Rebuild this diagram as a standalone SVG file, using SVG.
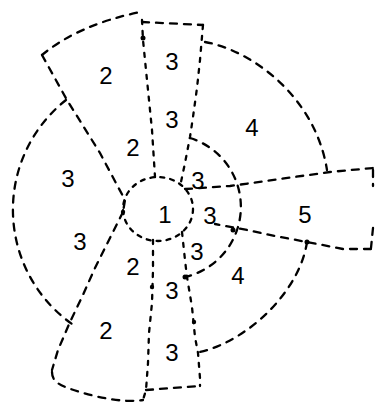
<svg xmlns="http://www.w3.org/2000/svg" width="377" height="403" viewBox="0 0 377 403">
<style>
.d{fill:none;stroke:#000;stroke-width:2.3;stroke-linecap:round;stroke-linejoin:round;stroke-dasharray:7 7}
.s{fill:none;stroke:#000;stroke-width:2.3;stroke-linecap:round;stroke-dasharray:4 7}
.i{fill:none;stroke:#000;stroke-width:2.3;stroke-linecap:round;stroke-dasharray:4 6}
.b{fill:#000}
text{font-family:"Liberation Sans",Arial,sans-serif;font-size:24px;fill:#000;text-anchor:middle}
</style>
<rect width="377" height="403" fill="#fff"/>
<g id="connectors">
<path class="d" d="M42,55 Q78,25 140,12"/>
<path class="d" d="M42,55 L67,100 L100,153 L125,200 L123,212"/>
<path class="d" d="M66,100 A140,140 0 0 0 72,324"/>
<path class="d" d="M123,212 L108,242 L95,268 L82,297 L70,322 L58,350 L52,370"/>
<path class="d" d="M52,372 C52,382 60,386 80,392 C100,398 125,403 143,400"/>
<path class="s" d="M142,20 L143,40 L148,90 L152,130 L155,177"/>
<path class="d" d="M142,22 L203,25"/>
<path class="s" d="M203,25 L200,60 L197,88 L193,117 L190,137 L185,163 L181,182"/>
<path class="d" d="M205,42 C250,50 315,95 327,170"/>
<path class="d" d="M185,189 L230,186 L280,179 L330,172 L373,168"/>
<path class="d" d="M373,170 L373,186"/>
<path class="d" d="M373,228 L371,248"/>
<path class="d" d="M371,249 L343,249 L307,242 L275,236 L247,230 L215,224"/>
<path class="d" d="M190,138 A72,72 0 0 1 185,277"/>
<path class="d" d="M307,242 C300,290 250,340 200,352"/>
<path class="s" d="M182,232 L185,260 L187,277 L192,307 L195,337 L198,353 L200,378 L200,386"/>
<path class="d" d="M146,390 L200,386"/>
<path class="s" d="M153,240 L153,270 L152,303 L149,333 L148,363 L146,390 L143,400"/>
<ellipse class="i" cx="158" cy="209" rx="35" ry="32"/>
<circle class="b" cx="143" cy="38" r="2.5"/>
<circle class="b" cx="307" cy="242" r="2.5"/>
<circle class="b" cx="185" cy="277" r="2.5"/>
<circle class="b" cx="233" cy="230" r="2.5"/>
<circle class="b" cx="123" cy="212" r="2.2"/>
<circle class="b" cx="152" cy="287" r="2.2"/>
<circle class="b" cx="194" cy="322" r="2.2"/>
</g>
<g id="n-2a"><text x="106" y="84">2</text></g>
<g id="n-3a"><text x="172" y="70">3</text></g>
<g id="n-3b"><text x="172" y="128">3</text></g>
<g id="n-2b"><text x="133" y="156">2</text></g>
<g id="n-4a"><text x="252" y="136">4</text></g>
<g id="n-3c"><text x="68" y="187">3</text></g>
<g id="n-3d"><text x="198" y="189">3</text></g>
<g id="n-1"><text x="165" y="223">1</text></g>
<g id="n-3e"><text x="210" y="224">3</text></g>
<g id="n-5"><text x="305" y="223">5</text></g>
<g id="n-3f"><text x="80" y="250">3</text></g>
<g id="n-3g"><text x="197" y="260">3</text></g>
<g id="n-2c"><text x="133" y="275">2</text></g>
<g id="n-4b"><text x="238" y="284">4</text></g>
<g id="n-3h"><text x="172" y="299">3</text></g>
<g id="n-2d"><text x="106" y="339">2</text></g>
<g id="n-3i"><text x="172" y="361">3</text></g>
</svg>
